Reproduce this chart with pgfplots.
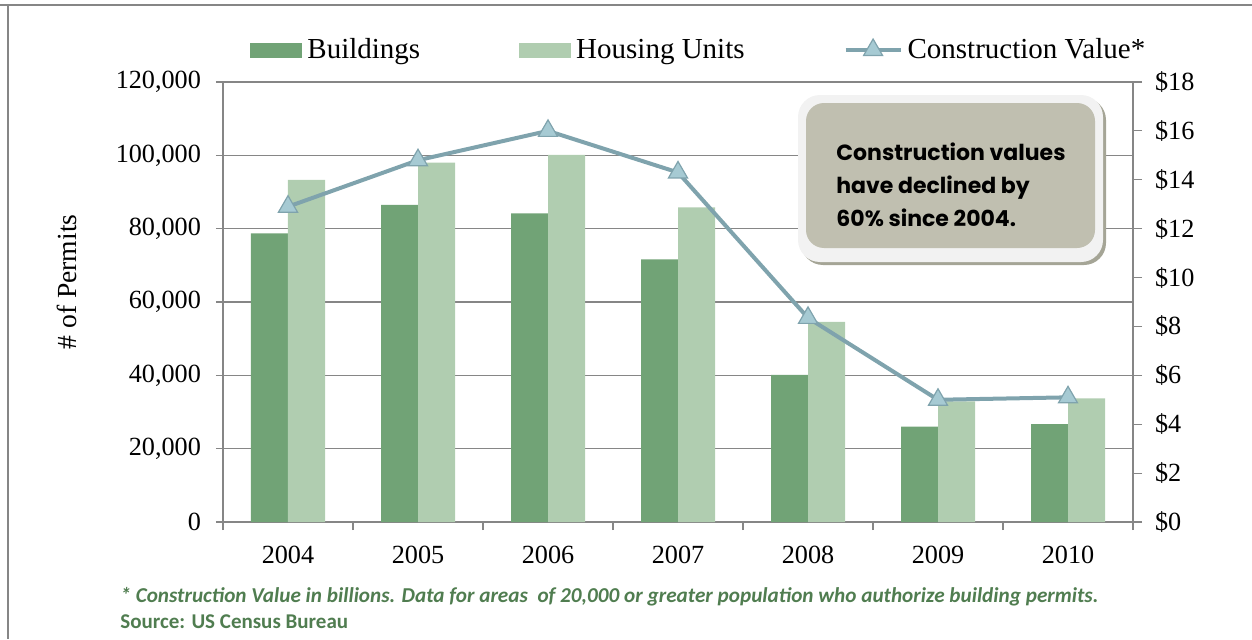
\documentclass[border=0pt]{standalone}
\usepackage{pgfplots}
\pgfplotsset{compat=1.18}
\usepackage{fontspec}
\setmainfont{Liberation Serif}
\newfontfamily\calfont{Carlito}
\newfontfamily\gothic{Poppins}
\definecolor{bldg}{RGB}{113,163,118}
\definecolor{hous}{RGB}{176,205,176}
\definecolor{linec}{RGB}{127,163,173}
\definecolor{markc}{RGB}{166,202,211}
\definecolor{gridc}{RGB}{134,134,134}
\definecolor{callfill}{RGB}{192,191,176}
\definecolor{callshadow}{RGB}{165,165,150}
\definecolor{notec}{RGB}{80,125,80}
\pgfplotsset{
  trileg/.style={legend image code/.code={\draw[##1, mark repeat=2, mark phase=2] plot coordinates {(0pt,0pt) (13.75pt,0pt) (27.5pt,0pt)};}},
  barleg/.style={legend image code/.code={\fill[##1, draw=none] (0pt,-3.75pt) rectangle (26pt,3.75pt);}},
}
\pgfplotstableread{
x bldg hous val
0 78700 93300 12.9
1 86500 98000 14.8
2 84200 100100 16.0
3 71600 85800 14.3
4 40100 54600 8.35
5 26000 32900 5.0
6 26700 33700 5.1
}\datatab
\begin{document}
\begin{tikzpicture}
\useasboundingbox (0,0) rectangle (626pt,319.5pt);
\draw[gridc, line width=1pt] (0,317pt) -- (626pt,317pt);
\draw[gridc, line width=1pt] (4pt,317pt) -- (4pt,0pt);
\begin{axis}[
  at={(111.5pt,58.5pt)}, anchor=south west,
  scale only axis, width=455pt, height=220pt,
  xmin=-0.5, xmax=6.5, ymin=0, ymax=120000,
  ybar=0pt, bar width=18.5pt,
  axis x line*=bottom, axis y line*=left,
  axis line style={gridc, line width=0.6pt},
  xtick={0,...,6}, xticklabels={2004,2005,2006,2007,2008,2009,2010},
  major x tick style={draw=none},
  minor xtick={-0.5,0.5,1.5,2.5,3.5,4.5,5.5,6.5},
  minor tick length=4pt, major tick length=3.5pt,
  tick align=outside,
  tick style={gridc, line width=0.6pt},
  ytick={0,20000,40000,60000,80000,100000,120000},
  yticklabels={0,{20,000},{40,000},{60,000},{80,000},{100,000},{120,000}},
  ymajorgrids, grid style={gridc, line width=0.6pt},
  scaled y ticks=false,
  tick label style={font=\fontsize{13.1}{15}\selectfont},
  xticklabel style={yshift=-5pt},
  yticklabel style={xshift=-4pt},
  ylabel={\# of Permits},
  ylabel style={font=\fontsize{13.8}{16}\selectfont, yshift=12.5pt, xshift=10pt},
]
\addplot[fill=bldg, draw=none] table[x=x, y=bldg] {\datatab};
\addplot[fill=hous, draw=none] table[x=x, y=hous] {\datatab};
\end{axis}
\begin{axis}[
  at={(111.5pt,58.5pt)}, anchor=south west,
  scale only axis, width=455pt, height=220pt,
  xmin=-0.5, xmax=6.5, ymin=0, ymax=18,
  axis x line=none, axis y line*=right,
  axis line style={gridc, line width=0.6pt},
  ytick={0,2,4,6,8,10,12,14,16,18},
  yticklabels={\$0,\$2,\$4,\$6,\$8,\$10,\$12,\$14,\$16,\$18},
  tick align=outside, major tick length=4.5pt,
  tick style={gridc, line width=0.6pt},
  tick label style={font=\fontsize{13.1}{15}\selectfont},
  yticklabel style={xshift=3pt},
  legend columns=3,
  legend style={at={(0.0297,1.0727)}, anchor=west, draw=none, fill=none,
    inner sep=0pt, column sep=2pt,
    nodes={inner sep=0.5pt},
    font=\fontsize{14.5}{17}\selectfont,
    /tikz/every even column/.append style={column sep=49pt}},
]
\addlegendimage{barleg, fill=bldg}
\addlegendentry{Buildings}
\addlegendimage{barleg, fill=hous}
\addlegendentry{Housing Units}
\addplot[linec, line width=2pt, mark=triangle*, mark size=5.5pt,
  mark options={fill=markc, draw=linec, line width=0.6pt}, trileg]
  table[x=x, y=val] {\datatab};
\addlegendentry{Construction Value*}
\end{axis}
% callout
\fill[callshadow, rounded corners=11pt] (400.5pt,187pt) rectangle (553pt,270.5pt);
\fill[white!95!black, rounded corners=11pt] (399pt,188.5pt) rectangle (551.5pt,272pt);
\fill[callfill, rounded corners=9pt] (403pt,195.5pt) rectangle (547.5pt,268pt);
\node[anchor=west, align=left, inner sep=0pt, font=\gothic\bfseries\fontsize{11}{16.5}\selectfont] at (418pt,227pt)
  {Construction values\\have declined by\\60\% since 2004.};
% footnote
\node[anchor=west, inner sep=0pt, text=notec, font=\calfont\bfseries\itshape\fontsize{10.6}{12}\selectfont] at (60pt,21pt)
  {* Construction Value in billions. Data for areas\ \ of 20,000 or greater population who authorize building permits.};
\node[anchor=west, inner sep=0pt, text=notec, font=\calfont\bfseries\fontsize{10.5}{12}\selectfont] at (60pt,8.5pt)
  {Source: US Census Bureau};
\end{tikzpicture}
\end{document}
